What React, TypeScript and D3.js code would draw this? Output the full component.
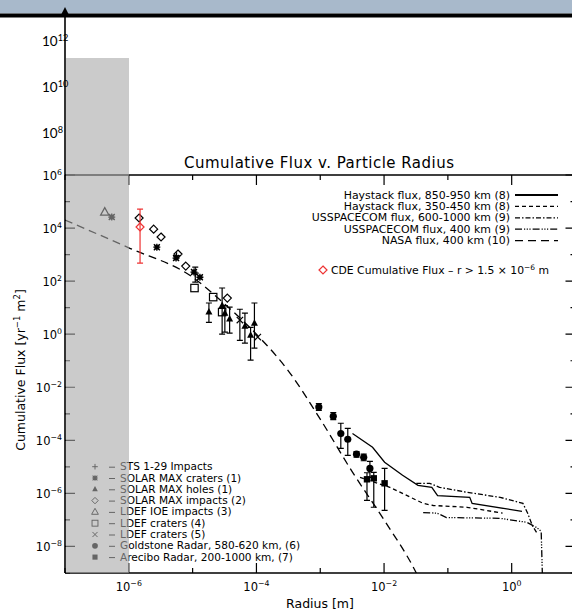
import React from 'react';
import * as d3 from 'd3';

const W = 572, H = 612;

// ---------- data ----------
const nasaR = [1e-7, 1e-6, 1e-5, 3.2e-5, 1e-4, 3.2e-4, 1e-3, 3.2e-3, 1e-2, 3.2e-2, 5e-2];
const nasaF = [2e4, 1.8e3, 1.4e2, 13.5, 1.0, 4e-2, 6.3e-4, 6.3e-6, 1e-7, 1e-9, 1e-10];

const hay900R = [3.2e-3, 6.6e-3, 1.02e-2, 1.95e-2, 3.4e-2, 5.6e-2, 6.9e-2, 0.22, 0.24, 1.45];
const hay900F = [1.8e-4, 5.5e-5, 1.5e-5, 4.8e-6, 2.0e-6, 1.7e-6, 8.3e-7, 7.1e-7, 4.2e-7, 2.1e-7];

const hay400R = [4.2e-3, 1.23e-2, 4.1e-2, 5.9e-2, 0.2, 0.72];
const hay400F = [4e-6, 1.7e-6, 4.2e-7, 3.5e-7, 3e-7, 1.8e-7];

const uss800R = [3.2e-2, 5.2e-2, 7.4e-2, 0.2, 0.66, 1.5, 1.78, 2.1, 2.45];
const uss800F = [2.4e-6, 2.4e-6, 1.7e-6, 1.1e-6, 7.1e-7, 4.2e-7, 1.8e-7, 6.2e-8, 3.4e-8];

const uss400R = [4.1e-2, 6.8e-2, 9.5e-2, 0.66, 1.74, 2.45, 2.9, 3.1];
const uss400F = [1.9e-7, 1.8e-7, 1.23e-7, 1.15e-7, 8.1e-8, 5.2e-8, 3.7e-8, 1e-10];

const stsR = [5.6e-6, 1.1e-5];
const stsF = [900, 200];
const stsHi = [null, 340];
const stsLo = [null, 91];

const smCratersR = [5.4e-7, 2.75e-6, 5.5e-6, 1.05e-5, 1.3e-5];
const smCratersF = [2.6e4, 1.9e3, 740, 220, 140];

const smHolesR = [1.8e-5, 2.9e-5, 3.2e-5, 3.8e-5, 6.6e-5, 8.1e-5, 9.3e-5];
const smHolesF = [6.8, 12, 6.2, 3.7, 2.0, 0.91, 2.6];
const smHolesHi = [15, 55, 12, 10.5, 6.2, 1.8, 15];
const smHolesLo = [2.8, 1.0, 1.2, 1.1, 0.46, 0.105, 0.3];

const smImpactsR = [1.45e-6, 2.45e-6, 3.2e-6, 5.9e-6, 7.8e-6, 3.5e-5];
const smImpactsF = [2.4e4, 9.1e3, 4.6e3, 1.05e3, 370, 23];

const ioeR = [4.2e-7];
const ioeF = [4.0e4];

const ldef4R = [1.07e-5, 2.1e-5, 2.9e-5];
const ldef4F = [55, 25, 6.8];

const ldef5R = [5.5e-5, 1.05e-4];
const ldef5F = [3.4, 0.78];
const ldef5Hi = [8.7, null];
const ldef5Lo = [0.59, null];

const goldR = [9.5e-4, 1.6e-3, 2.1e-3, 2.7e-3, 3.7e-3, 4.8e-3, 6.0e-3];
const goldF = [1.8e-3, 8.1e-4, 1.8e-4, 1.1e-4, 3.0e-5, 2.3e-5, 8.7e-6];
const goldHi = [2.4e-3, 1.1e-3, 4.4e-4, 2.8e-4, 3.8e-5, 3e-5, 1.6e-5];
const goldLo = [1.35e-3, 6e-4, 5e-5, 2.7e-5, 2.3e-5, 1.7e-5, 4e-6];

const areR = [5.4e-3, 6.9e-3, 1.02e-2];
const areF = [3.4e-6, 3.7e-6, 2.4e-6];
const areHi = [6e-6, 6.2e-6, 8.7e-6];
const areLo = [5.5e-7, 3e-7, 2.3e-7];

const cdeR = [1.5e-6];
const cdeF = [1.1e4];
const cdeHi = [5.2e4];
const cdeLo = [480];

const xMajor = [-6, -4, -2, 0];
const xMinor = [-7, -5, -3, -1, 1];
const yMajor = [-8, -6, -4, -2, 0, 2, 4, 6];
const yMinor = [-9, -7, -5, -3, -1, 1, 3, 5];
const overlayExps = [8, 10, 12];

const lineLegend = [
  'Haystack flux, 850-950 km (8)',
  'Haystack flux, 350-450 km (8)',
  'USSPACECOM flux, 600-1000 km (9)',
  'USSPACECOM flux, 400 km (9)',
  'NASA flux, 400 km (10)',
];
const symLegend = [
  'STS 1-29 Impacts',
  'SOLAR MAX craters (1)',
  'SOLAR MAX holes (1)',
  'SOLAR MAX impacts (2)',
  'LDEF IOE impacts (3)',
  'LDEF craters (4)',
  'LDEF craters (5)',
  'Goldstone Radar, 580-620 km, (6)',
  'Arecibo Radar, 200-1000 km, (7)',
];

// ---------- layout ----------
const L = 65, R = 575.5, T = 175, B = 573;
const x = d3.scaleLog().domain([1e-7, 1e1]).range([L, R]);
const y = d3.scaleLog().domain([1e-9, 1e6]).range([B, T]);

const FONT = 'DejaVu Sans, sans-serif';
const dashes = ['', '4,3', '5,2,1.5,2', '7,2,1.2,1.5,1.2,1.5,1.2,2', '8,5'];

type SymT = 'plus' | 'star' | 'triF' | 'diamond' | 'triO' | 'square' | 'x' | 'circle' | 'squareF';
const symKinds: SymT[] = ['plus', 'star', 'triF', 'diamond', 'triO', 'square', 'x', 'circle', 'squareF'];

function Sym({ t, cx, cy, color = '#000' }: { t: SymT; cx: number; cy: number; color?: string }) {
  const sw = 1.2;
  switch (t) {
    case 'plus':
      return <path d={`M${cx - 3.5},${cy}H${cx + 3.5}M${cx},${cy - 3.5}V${cy + 3.5}`} stroke={color} strokeWidth={sw} fill="none" />;
    case 'star':
      return (
        <g>
          <rect x={cx - 2.5} y={cy - 2.5} width={5} height={5} fill={color} opacity={0.7} />
          <path d={`M${cx - 3.5},${cy}H${cx + 3.5}M${cx},${cy - 3.5}V${cy + 3.5}M${cx - 3},${cy - 3}L${cx + 3},${cy + 3}M${cx - 3},${cy + 3}L${cx + 3},${cy - 3}`} stroke={color} strokeWidth={1.3} fill="none" />
        </g>
      );
    case 'triF':
      return <path d={`M${cx},${cy - 4}L${cx + 3.5},${cy + 2.5}L${cx - 3.5},${cy + 2.5}Z`} fill={color} />;
    case 'triO':
      return <path d={`M${cx},${cy - 4.5}L${cx + 4.2},${cy + 3}L${cx - 4.2},${cy + 3}Z`} fill="none" stroke={color} strokeWidth={sw} />;
    case 'diamond':
      return <path d={`M${cx},${cy - 4}L${cx + 4},${cy}L${cx},${cy + 4}L${cx - 4},${cy}Z`} fill="none" stroke={color} strokeWidth={sw} />;
    case 'square':
      return <rect x={cx - 3.7} y={cy - 3.7} width={7.4} height={7.4} fill="none" stroke={color} strokeWidth={sw} />;
    case 'x':
      return <path d={`M${cx - 3.2},${cy - 3.2}L${cx + 3.2},${cy + 3.2}M${cx - 3.2},${cy + 3.2}L${cx + 3.2},${cy - 3.2}`} stroke={color} strokeWidth={sw} fill="none" />;
    case 'circle':
      return <circle cx={cx} cy={cy} r={3.6} fill={color} />;
    case 'squareF':
      return <rect x={cx - 3.2} y={cy - 3.2} width={6.4} height={6.4} fill={color} />;
  }
  return null;
}

function Series({ t, rs, fs, hi, lo, color = '#000' }: { t: SymT; rs: number[]; fs: number[]; hi?: (number | null)[]; lo?: (number | null)[]; color?: string }) {
  return (
    <g>
      {rs.map((r, i) => {
        const cx = x(r), cy = y(fs[i]);
        const h = hi ? hi[i] : null, l = lo ? lo[i] : null;
        return (
          <g key={i}>
            {h != null && l != null && (
              <path
                d={`M${cx},${y(h)}V${y(l)}M${cx - 3},${y(h)}H${cx + 3}M${cx - 3},${y(l)}H${cx + 3}`}
                stroke={color}
                strokeWidth={1.2}
                fill="none"
              />
            )}
            <Sym t={t} cx={cx} cy={cy} color={color} />
          </g>
        );
      })}
    </g>
  );
}

function Pow({ x: px, y: py, exp, anchor = 'middle', size = 11.5, font = FONT }: { x: number; y: number; exp: string; anchor?: string; size?: number; font?: string }) {
  return (
    <text x={px} y={py} textAnchor={anchor as any} fontFamily={font} fontSize={size} fill="#000">
      10<tspan dy={-5} fontSize={size * 0.68}>{exp}</tspan>
    </text>
  );
}

const fmtExp = (e: number) => (e < 0 ? '\u2212' + Math.abs(e) : String(e));

export default function App() {
  const lineGen = (rs: number[], fs: number[]) =>
    d3
      .line<number>()
      .x((_, i) => x(rs[i]))
      .y((_, i) => y(fs[i]))
      .curve(d3.curveLinear)(rs) as string;
  const nasaGen = d3
    .line<number>()
    .x((_, i) => x(nasaR[i]))
    .y((_, i) => y(nasaF[i]))
    .curve(d3.curveMonotoneX)(nasaR) as string;

  const lines = [
    [hay900R, hay900F],
    [hay400R, hay400F],
    [uss800R, uss800F],
    [uss400R, uss400F],
  ];

  return (
    <svg width={W} height={H} style={{ position: 'absolute', left: 0, top: 0, background: '#fff' }}>
      <defs>
        <clipPath id="plot">
          <rect x={L} y={T} width={R - L} height={B - T} />
        </clipPath>
      </defs>
      <rect x={0} y={0} width={W} height={H} fill="#fff" />

      {/* title */}
      <text x={319} y={168} textAnchor="middle" fontFamily={FONT} fontSize={15} textLength={270} lengthAdjust="spacing" fill="#000">
        Cumulative Flux v. Particle Radius
      </text>

      {/* axes frame */}
      <path d={`M${L},${T}H${W}M${L},${B}H${W}`} stroke="#000" strokeWidth={1.3} fill="none" />

      {/* x ticks */}
      {xMajor.map((e) => (
        <path key={'xM' + e} d={`M${x(10 ** e)},${B}V${B - 10}M${x(10 ** e)},${T}V${T + 10}`} stroke="#000" strokeWidth={1.2} />
      ))}
      {xMinor.map((e) => (
        <path key={'xm' + e} d={`M${x(10 ** e)},${B}V${B - 5}M${x(10 ** e)},${T}V${T + 5}`} stroke="#000" strokeWidth={1.2} />
      ))}
      {xMajor.map((e) => (
        <Pow key={'xl' + e} x={x(10 ** e)} y={591} exp={fmtExp(e)} />
      ))}
      <text x={320} y={608} textAnchor="middle" fontFamily={FONT} fontSize={12.5} fill="#000">
        Radius [m]
      </text>

      {/* y ticks */}
      {yMajor.map((e) => (
        <path key={'yM' + e} d={`M${L},${y(10 ** e)}H${L + 10}M${R},${y(10 ** e)}H${R - 10}`} stroke="#000" strokeWidth={1.2} />
      ))}
      {yMinor.map((e) => (
        <path key={'ym' + e} d={`M${L},${y(10 ** e)}H${L + 5}M${R},${y(10 ** e)}H${R - 5}`} stroke="#000" strokeWidth={1.2} />
      ))}
      {yMajor.map((e) => (
        <Pow key={'yl' + e} x={62} y={y(10 ** e) + 4.5} exp={fmtExp(e)} anchor="end" />
      ))}
      <text transform="translate(25,370) rotate(-90)" textAnchor="middle" fontFamily={FONT} fontSize={12.5} fill="#000">
        Cumulative Flux [yr<tspan dy={-5} fontSize={8.5}>{'\u22121'}</tspan>
        <tspan dy={5}> m</tspan>
        <tspan dy={-5} fontSize={8.5}>2</tspan>
        <tspan dy={5}>]</tspan>
      </text>

      {/* model lines */}
      <g clipPath="url(#plot)" fill="none" stroke="#000" strokeWidth={1.3}>
        {lines.map(([rs, fs], i) => (
          <path key={i} d={lineGen(rs, fs)} strokeDasharray={dashes[i] || undefined} />
        ))}
        <path d={nasaGen} strokeDasharray={dashes[4]} />
      </g>

      {/* measurements */}
      <Series t="plus" rs={stsR} fs={stsF} hi={stsHi} lo={stsLo} />
      <Series t="star" rs={smCratersR} fs={smCratersF} />
      <Series t="triF" rs={smHolesR} fs={smHolesF} hi={smHolesHi} lo={smHolesLo} />
      <Series t="diamond" rs={smImpactsR} fs={smImpactsF} />
      <Series t="triO" rs={ioeR} fs={ioeF} />
      <Series t="square" rs={ldef4R} fs={ldef4F} />
      <Series t="x" rs={ldef5R} fs={ldef5F} hi={ldef5Hi} lo={ldef5Lo} />
      <Series t="circle" rs={goldR} fs={goldF} hi={goldHi} lo={goldLo} />
      <Series t="squareF" rs={areR} fs={areF} hi={areHi} lo={areLo} />
      <Series t="diamond" rs={cdeR} fs={cdeF} hi={cdeHi} lo={cdeLo} color="#ee3333" />

      {/* line legend */}
      {lineLegend.map((s, i) => {
        const ly = 195 + i * 11.4;
        return (
          <g key={'ll' + i}>
            <text transform={`translate(510,${ly + 3.5}) scale(1.13,1)`} textAnchor="end" fontFamily={FONT} fontSize={9.7} fill="#000">
              {s}
            </text>
            <path d={`M515,${ly}H558`} stroke="#000" strokeWidth={i === 0 ? 1.8 : 1.3} strokeDasharray={dashes[i] || undefined} />
          </g>
        );
      })}
      <Sym t="diamond" cx={323} cy={270} color="#ee3333" />
      <text x={331} y={273.8} fontFamily={FONT} fontSize={10.8} fill="#000">
        CDE Cumulative Flux {'\u2013'} r {'>'} 1.5 {'\u00d7'} 10<tspan dy={-4} fontSize={7.5}>{'\u22126'}</tspan>
        <tspan dy={4}> m</tspan>
      </text>

      {/* symbol legend */}
      {symLegend.map((s, i) => {
        const ly = 466.7 + i * 11.3;
        return (
          <g key={'sl' + i}>
            <g transform={`translate(95,${ly}) scale(0.8) translate(-95,${-ly})`}>
              <Sym t={symKinds[i]} cx={95} cy={ly} />
            </g>
            <path d={`M109,${ly + 0.5}H115`} stroke="#000" strokeWidth={1} />
            <text transform={`translate(120,${ly + 3.5}) scale(1.1,1)`} fontFamily={FONT} fontSize={9.6} fill="#000">
              {s}
            </text>
          </g>
        );
      })}

      {/* slide overlay */}
      <rect x={66} y={58} width={63} height={B - 58} fill="#a8a8a8" opacity={0.6} />
      <rect x={0} y={0} width={W} height={13.5} fill="#a8b9cb" />
      <rect x={0} y={13.5} width={W} height={4} fill="#000" />
      <line x1={L} x2={L} y1={14} y2={B} stroke="#000" strokeWidth={1.6} />
      <path d={`M${L},7L${L + 4.8},16.5L${L - 4.8},16.5Z`} fill="#000" />
      {overlayExps.map((e, i) => (
        <Pow key={'ov' + e} x={42} y={138 - i * 46} exp={String(e)} anchor="start" size={13.5} font="Lato, Open Sans, sans-serif" />
      ))}
    </svg>
  );
}
